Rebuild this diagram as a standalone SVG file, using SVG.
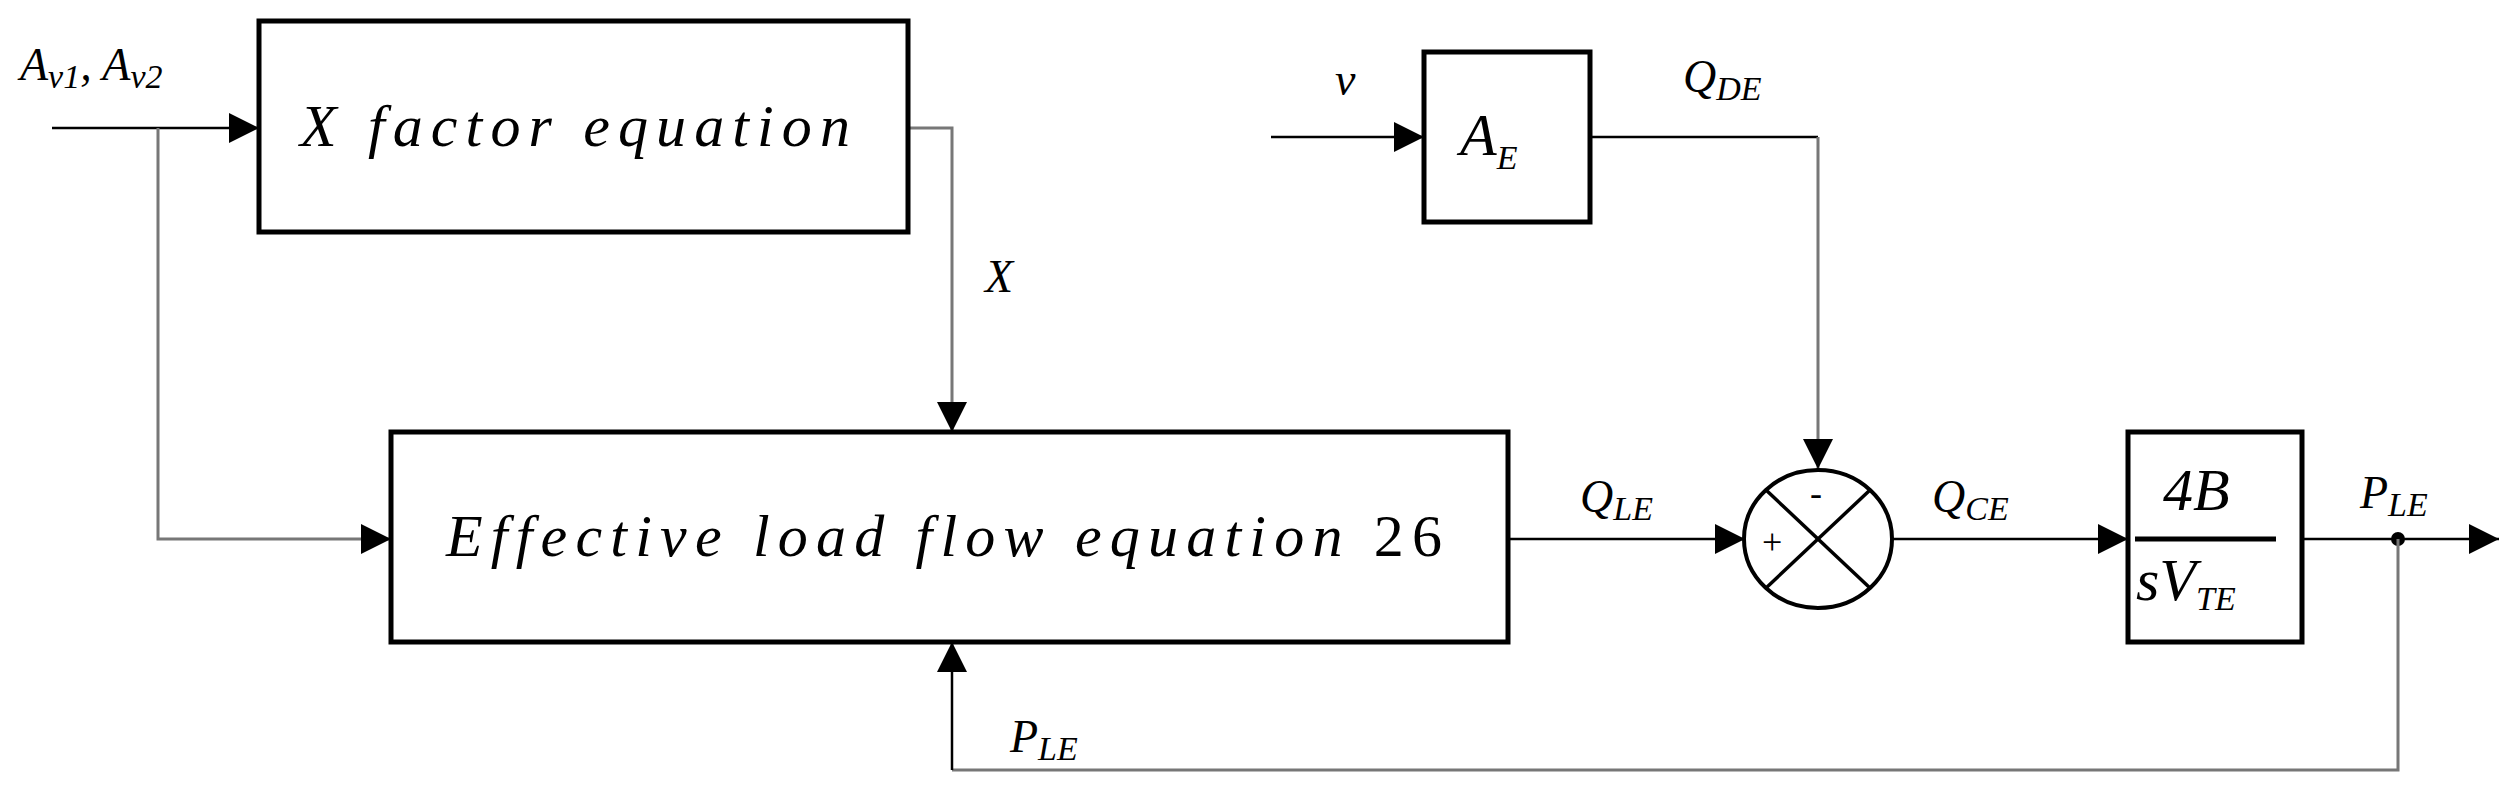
<svg xmlns="http://www.w3.org/2000/svg" width="2517" height="798" viewBox="0 0 2517 798">
<style>
.box{fill:#fff;stroke:#000;stroke-width:5}
.k{fill:none;stroke:#000;stroke-width:2.5}
.g{fill:none;stroke:#777;stroke-width:3}
text{font-family:"Liberation Serif",serif;font-style:italic;fill:#000}
.big{font-size:60px}
.lb{font-size:46px}
.sub{font-size:34px}
</style>
<defs>
<marker id="ar2" viewBox="0 0 10 10" refX="10" refY="5" markerWidth="30" markerHeight="30" markerUnits="userSpaceOnUse" orient="auto"><path d="M0,0L10,5L0,10z" fill="#000"/></marker>
</defs>
<g id="connectors">
<line class="k" x1="52" y1="128" x2="259" y2="128" marker-end="url(#ar2)"/>
<polyline class="g" points="158,128 158,539 391,539" marker-end="url(#ar2)"/>
<polyline class="g" points="908,128 952,128 952,432" marker-end="url(#ar2)"/>
<line class="k" x1="1271" y1="137" x2="1424" y2="137" marker-end="url(#ar2)"/>
<polyline class="k" points="1590,137 1818,137"/>
<line class="g" x1="1818" y1="137" x2="1818" y2="469" marker-end="url(#ar2)"/>
<line class="k" x1="1508" y1="539" x2="1745" y2="539" marker-end="url(#ar2)"/>
<line class="k" x1="1892" y1="539" x2="2128" y2="539" marker-end="url(#ar2)"/>
<line class="k" x1="2302" y1="539" x2="2499" y2="539" marker-end="url(#ar2)"/>
<circle cx="2398" cy="539" r="7" fill="#000"/>
<polyline class="g" points="2398,539 2398,770 952,770"/>
<line class="k" x1="952" y1="770" x2="952" y2="642" marker-end="url(#ar2)"/>
</g>
<g id="xfactor"><rect class="box" x="259" y="21" width="649" height="211"/>
<text class="big" x="300" y="146" textLength="550" lengthAdjust="spacing">X factor equation</text></g>
<g id="effective"><rect class="box" x="391" y="432" width="1117" height="210"/>
<text class="big" x="446" y="556" textLength="996" lengthAdjust="spacing">Effective load flow equation <tspan font-style="normal">26</tspan></text></g>
<g id="ae"><rect class="box" x="1424" y="52" width="166" height="170"/>
<text class="big" x="1460" y="155">A<tspan class="sub" dy="14">E</tspan></text></g>
<g id="sum"><ellipse cx="1818" cy="539" rx="74" ry="69" fill="#fff" stroke="#000" stroke-width="4"/>
<line class="k" x1="1766" y1="490" x2="1870" y2="588" style="stroke-width:3.5"/>
<line class="k" x1="1870" y1="490" x2="1766" y2="588" style="stroke-width:3.5"/>
<text x="1810" y="505" font-size="36" style="font-style:normal">-</text>
<text x="1762" y="554" font-size="36" style="font-style:normal">+</text></g>
<g id="integrator"><rect class="box" x="2128" y="432" width="174" height="210"/>
<line x1="2135" y1="539" x2="2276" y2="539" stroke="#000" stroke-width="5"/>
<text class="big" x="2163" y="510" font-style="normal">4<tspan font-style="italic">B</tspan></text>
<text class="big" x="2136" y="600">sV<tspan class="sub" font-size="40" dy="10">TE</tspan></text></g>
<g id="labels">
<text class="lb" x="20" y="80">A<tspan class="sub" dy="8">v1</tspan><tspan dy="-8">, A</tspan><tspan class="sub" dy="8">v2</tspan></text>
<text class="lb" x="985" y="292">X</text>
<text class="lb" x="1010" y="752">P<tspan class="sub" dy="8">LE</tspan></text>
<text class="lb" x="1335" y="95">v</text>
<text class="lb" x="1683" y="92">Q<tspan class="sub" dy="8">DE</tspan></text>
<text class="lb" x="1580" y="512">Q<tspan class="sub" dy="8">LE</tspan></text>
<text class="lb" x="1932" y="512">Q<tspan class="sub" dy="8">CE</tspan></text>
<text class="lb" x="2360" y="508">P<tspan class="sub" dy="8">LE</tspan></text>
</g>
</svg>
